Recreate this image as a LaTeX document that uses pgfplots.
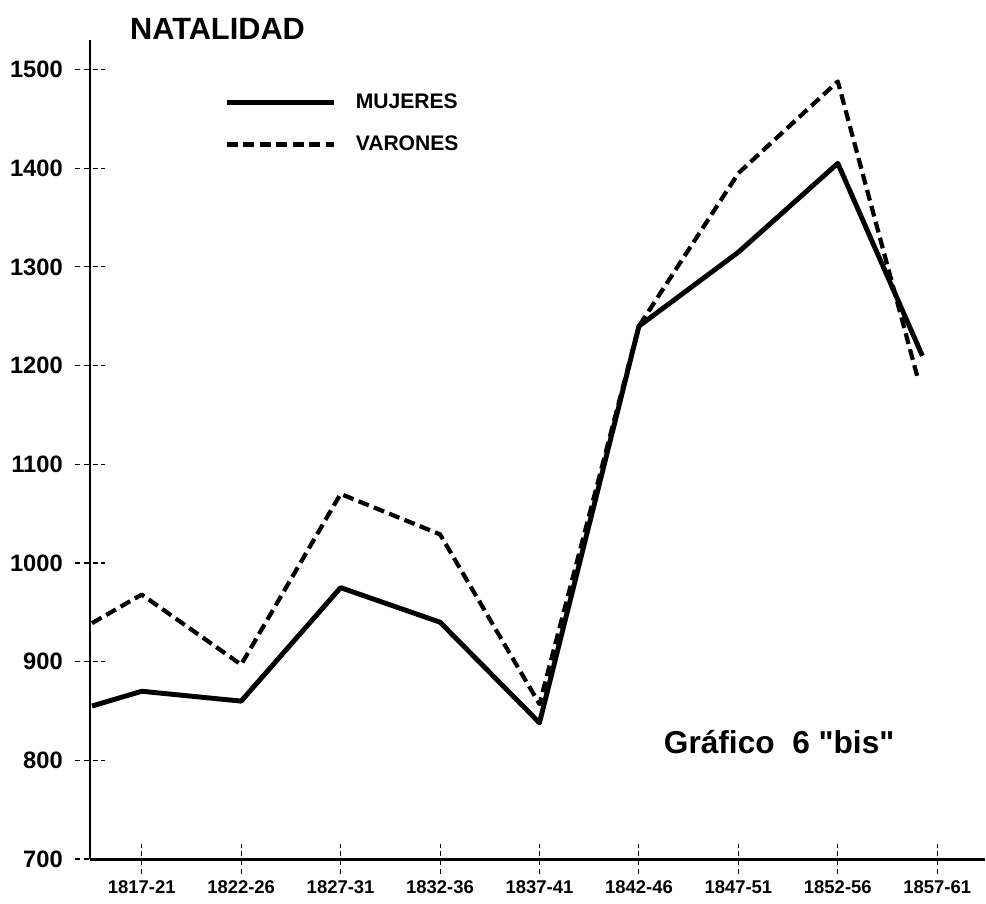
\documentclass[border=0pt]{standalone}
\usepackage{fontspec}
\setmainfont{Liberation Sans}
\newfontfamily\qfont{Liberation Sans}[Ligatures=TeXOff]
\usepackage{pgfplots}
\pgfplotsset{compat=1.18}
\begin{document}
\begin{tikzpicture}
\path[use as bounding box] (0,0) rectangle (197.2mm,180.6mm);
\begin{axis}[
  at={(18mm,8.8mm)}, anchor=south west, scale only axis,
  width=179mm, height=163.8mm,
  xmin=-0.52, xmax=8.48, ymin=700, ymax=1530,
  axis x line=bottom, axis y line=left,
  axis line style={-, line width=1.7pt},
  xtick={0,1,2,3,4,5,6,7,8},
  xticklabels={1817-21,1822-26,1827-31,1832-36,1837-41,1842-46,1847-51,1852-56,1857-61},
  ytick={700,800,900,1000,1100,1200,1300,1400,1500},
  yticklabels={700,800,900,1000,1100,1200,1300,1400,1500},
  tick align=center, major tick length=6mm,
  tick style={densely dashed, line width=0.6pt, black},
  xticklabel style={font=\bfseries\fontsize{10.5}{12}\selectfont},
  yticklabel style={font=\bfseries\fontsize{13.5}{15}\selectfont, xshift=-1.2mm},
  legend cell align=left,
  legend image code/.code={\draw[#1] (0mm,0mm) -- (21.4mm,0mm); \path (24.6mm,0mm);},
  legend style={at={(rel axis cs:0.1497,0.9395)}, anchor=north west, draw=none, fill=none,
    font=\bfseries\fontsize{12}{13}\selectfont, row sep=3.6mm, inner sep=0pt},
  clip=false,
]
\addplot[black, line width=2.8pt, line join=round] coordinates {
  (-0.5,855) (0,870) (1,860) (2,975) (3,940) (4,838) (5,1240) (6,1315) (7,1405) (7.85,1210)};
\addlegendentry{MUJERES}
\addplot[black, line width=2.4pt, dash pattern=on 2.2mm off 1.1mm, line join=round] coordinates {
  (-0.5,939) (0,968) (1,897) (2,1070) (3,1029) (4,857) (5,1240) (6,1395) (7,1488) (7.81,1185)};
\addlegendentry{VARONES}
\node[font=\bfseries\fontsize{17.5}{20}\selectfont] at (rel axis cs:0.1425,1.013) {NATALIDAD};
\node[font=\qfont\bfseries\fontsize{18}{22}\selectfont] at (rel axis cs:0.7700,0.1429) {Gráfico\ \ 6 "bis"};
\end{axis}
\end{tikzpicture}
\end{document}
